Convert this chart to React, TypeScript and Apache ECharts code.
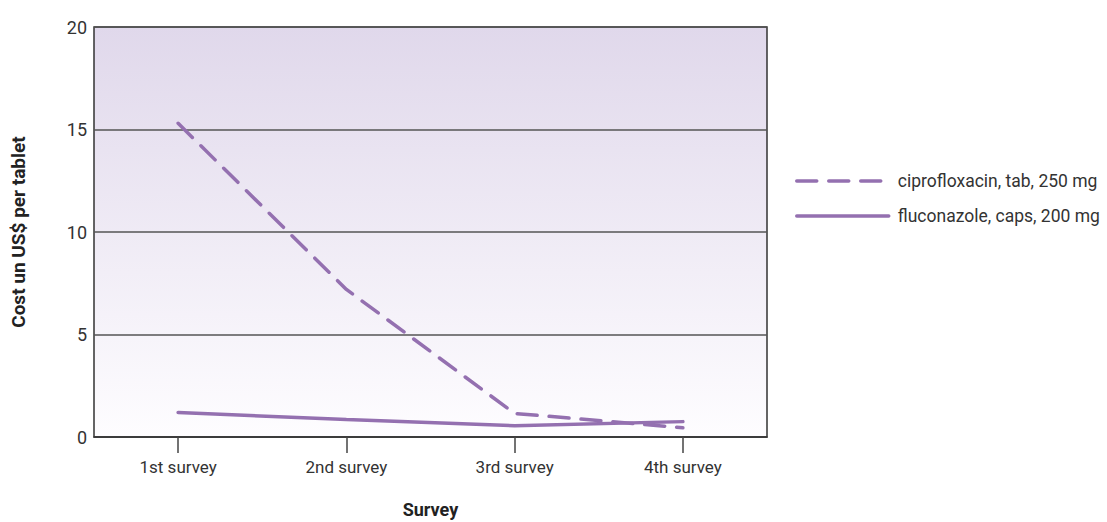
import React, { useEffect, useRef } from "react";
import * as echarts from "echarts";

const categories = ["1st survey", "2nd survey", "3rd survey", "4th survey"];
const ciprofloxacin = [15.3, 7.2, 1.15, 0.45];
const fluconazole = [1.2, 0.85, 0.55, 0.75];
const seriesNames = ["ciprofloxacin, tab, 250 mg", "fluconazole, caps, 200 mg"];
const yTicks = { min: 0, max: 20, interval: 5 };

const FONT = "Roboto, 'Liberation Sans', sans-serif";
const LINE = "#9470b0";

export default function App() {
  const ref = useRef<HTMLDivElement>(null);
  useEffect(() => {
    document.body.style.margin = "0";
    const chart = echarts.init(ref.current!, undefined, { renderer: "svg" });
    chart.setOption({
      animation: false,
      textStyle: { fontFamily: FONT },
      grid: {
        left: 94,
        right: 340,
        top: 27,
        bottom: 85,
        outerBoundsMode: "none",
        containLabel: false,
        show: true,
        borderColor: "#333",
        borderWidth: 1.5,
        backgroundColor: new echarts.graphic.LinearGradient(0, 0, 0, 1, [
          { offset: 0, color: "#e0d8eb" },
          { offset: 1, color: "#fefdff" },
        ]),
      },
      legend: {
        orient: "vertical",
        left: 790,
        top: 167,
        itemWidth: 92,
        itemHeight: 14,
        itemGap: 17,
        itemStyle: { opacity: 0 },
        lineStyle: { width: 3.5, cap: "round" },
        textStyle: { fontSize: 17.5, color: "#333", fontFamily: FONT, padding: [0, 0, 0, 4] },
        data: seriesNames,
      },
      xAxis: {
        type: "category",
        data: categories,
        boundaryGap: true,
        axisLine: { show: true, lineStyle: { color: "#333", width: 1.5 } },
        axisTick: { show: true, alignWithLabel: true, length: 16, lineStyle: { color: "#444", width: 1.5 } },
        axisLabel: { fontSize: 17, color: "#333", margin: 21, fontFamily: FONT },
        name: "Survey",
        nameLocation: "middle",
        nameGap: 63,
        nameTextStyle: { fontSize: 18, fontWeight: "bold", color: "#222", fontFamily: FONT },
      },
      yAxis: {
        type: "value",
        min: yTicks.min,
        max: yTicks.max,
        interval: yTicks.interval,
        axisLine: { show: false },
        axisTick: { show: false },
        axisLabel: { fontSize: 18, color: "#333", margin: 7, fontFamily: FONT },
        splitLine: { show: true, lineStyle: { color: "#555", width: 1.5 } },
        name: "Cost un US$ per tablet",
        nameLocation: "middle",
        nameGap: 66,
        nameTextStyle: { fontSize: 19, fontWeight: "bold", color: "#222", fontFamily: FONT },
      },
      series: [
        {
          name: seriesNames[0],
          type: "line",
          data: ciprofloxacin,
          symbol: "none",
          lineStyle: { color: LINE, width: 3.5, type: [20, 12], cap: "round" },
          itemStyle: { color: LINE },
        },
        {
          name: seriesNames[1],
          type: "line",
          data: fluconazole,
          symbol: "none",
          lineStyle: { color: LINE, width: 3.5, type: "solid", cap: "round" },
          itemStyle: { color: LINE },
        },
      ],
    });
    return () => chart.dispose();
  }, []);
  return <div ref={ref} style={{ width: 1107, height: 522 }} />;
}
